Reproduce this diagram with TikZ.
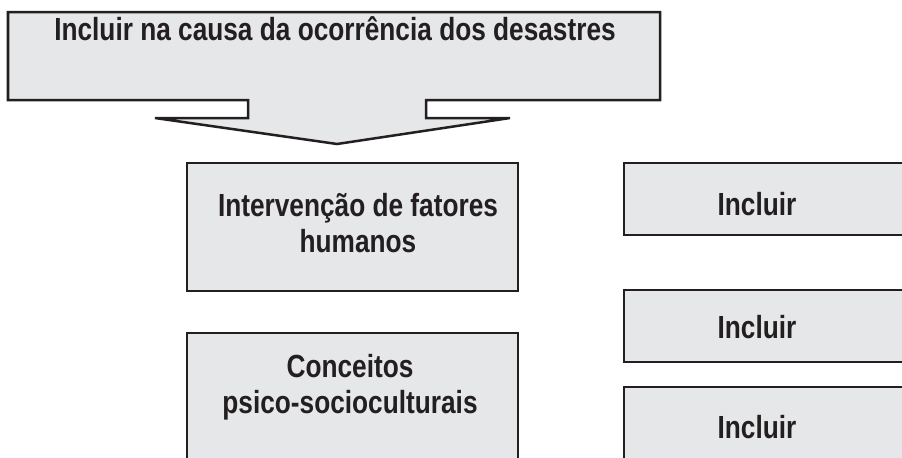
\documentclass[tikz,border=0pt]{standalone}
\usepackage{fontspec}
\setmainfont{Liberation Sans}[FakeStretch=0.82]
\usepackage{xcolor}
\usepackage{tikz}
\usetikzlibrary{positioning}
\definecolor{boxgray}{HTML}{E6E7E8}
\definecolor{boxink}{HTML}{231F20}

\begin{document}
\begin{tikzpicture}[x=0.5pt, y=-0.5pt,
      panel/.style={draw=boxink, fill=boxgray, line width=1.25pt},
      boxtext/.style={font=\fontsize{16}{18}\selectfont\bfseries, text=boxink,
                      align=center, anchor=base, inner sep=0pt}]
    \clip (0,0) rectangle (902,457);
    % top callout with its arrow
    \draw[panel]
      (8,12) -- (660,12) -- (660,100) -- (426,100) -- (426,118) -- (510,118)
      -- (337,144) -- (155,118) -- (248,118) -- (248,100) -- (8,100) -- cycle;
    \node[boxtext] (cause) at (335,40) {Incluir na causa da ocorrência dos desastres};
    % left column
    \node[panel, minimum width=165.5pt, minimum height=64pt] (human) at (352.5,227) {};
    \node[boxtext] (humantxt) at (358,252) {Intervenção de fatores\\humanos};
    \node[panel, minimum width=165.5pt, minimum height=80pt] (psico) at (352.5,413) {};
    \node[boxtext] (psicotxt) at (350,413) {Conceitos\\psico-socioculturais};
    % right column
    \node[panel, minimum width=160pt, minimum height=36pt] (incA) at (784,199) {};
    \node[boxtext] (incAtxt) at (757,215) {Incluir};
    \node[panel, minimum width=160pt, minimum height=36pt] (incB) at (784,326) {};
    \node[boxtext] (incBtxt) at (757,338) {Incluir};
    \node[panel, minimum width=160pt, minimum height=60pt] (incC) at (784,447) {};
    \node[boxtext] (incCtxt) at (757,438) {Incluir};
\end{tikzpicture}
\end{document}
